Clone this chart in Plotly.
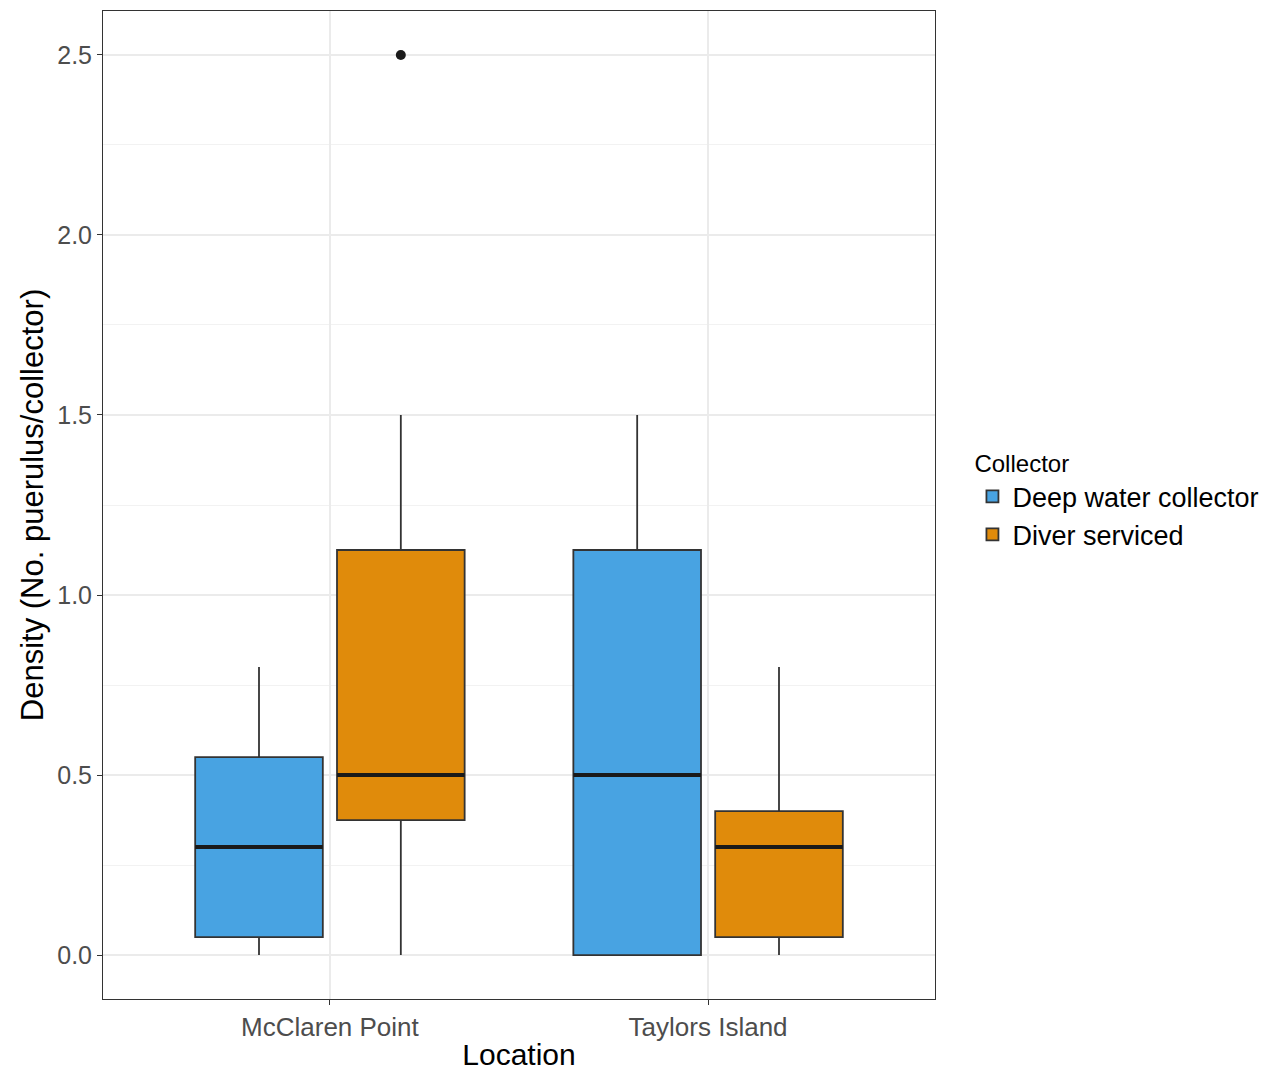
import plotly.graph_objects as go

locations = ["McClaren Point", "Taylors Island"]
collectors = ["Deep water collector", "Diver serviced"]
colors = ["#48A3E2", "#E08B0B"]

# per collector: values for [McClaren Point, Taylors Island]
q1 = {"Deep water collector": [0.05, 0.0], "Diver serviced": [0.375, 0.05]}
median = {"Deep water collector": [0.3, 0.5], "Diver serviced": [0.5, 0.3]}
q3 = {"Deep water collector": [0.55, 1.125], "Diver serviced": [1.125, 0.4]}
lower = {"Deep water collector": [0.0, 0.0], "Diver serviced": [0.0, 0.0]}
upper = {"Deep water collector": [0.8, 1.5], "Diver serviced": [1.5, 0.8]}
outlier_loc = ["McClaren Point"]
outlier_col = ["Diver serviced"]
outlier_val = [2.5]

dodge = 0.1875
width = 0.3375
offsets = {"Deep water collector": -dodge, "Diver serviced": dodge}

fig = go.Figure()
for c, col in zip(collectors, colors):
    xs = [i + offsets[c] for i in range(len(locations))]
    fig.add_trace(go.Box(
        x=xs, q1=q1[c], median=median[c], q3=q3[c],
        lowerfence=lower[c], upperfence=upper[c],
        width=width, boxpoints=False, whiskerwidth=0,
        fillcolor=col, line=dict(color="#333333", width=1.8),
        name=c, showlegend=True,
    ))
    for x, m in zip(xs, median[c]):
        fig.add_trace(go.Scatter(
            x=[x - width / 2, x + width / 2], y=[m, m], mode="lines",
            line=dict(color="#1a1a1a", width=4), showlegend=False, hoverinfo="skip",
        ))

fig.add_trace(go.Scatter(
    x=[locations.index(l) + offsets[c] for l, c in zip(outlier_loc, outlier_col)],
    y=outlier_val, mode="markers",
    marker=dict(color="#1a1a1a", size=10), showlegend=False,
))

font = "Liberation Sans, Arial, sans-serif"
fig.update_layout(
    width=1266, height=1063,
    margin=dict(l=95, r=339, t=2, b=68),
    paper_bgcolor="white", plot_bgcolor="white",
    font=dict(family=font, color="#000000"),
    legend=dict(
        title=dict(text="Collector", font=dict(size=24, color="#000000")),
        font=dict(size=27, color="#000000"),
        x=1.045, xanchor="left", y=0.505, yanchor="middle",
        itemwidth=30, tracegroupgap=2,
    ),
    xaxis=dict(
        range=[-0.6, 1.6], tickvals=list(range(len(locations))), ticktext=locations,
        showgrid=True, gridcolor="#EBEBEB", gridwidth=1.5, zeroline=False,
        showline=True, mirror=True, linecolor="#333333", linewidth=1,
        ticks="outside", ticklen=5, tickcolor="#333333",
        tickfont=dict(size=26, color="#4D4D4D"),
        title=dict(text="Location", font=dict(size=30, color="#000000"), standoff=6),
    ),
    yaxis=dict(
        range=[-0.122, 2.622], tickvals=[0, 0.5, 1.0, 1.5, 2.0, 2.5],
        ticktext=["0.0", "0.5", "1.0", "1.5", "2.0", "2.5"],
        showgrid=True, gridcolor="#EBEBEB", gridwidth=1.5, zeroline=False,
        minor=dict(tickvals=[0.25, 0.75, 1.25, 1.75, 2.25], showgrid=True,
                   gridcolor="#F2F2F2", gridwidth=0.8),
        showline=True, mirror=True, linecolor="#333333", linewidth=1,
        ticks="outside", ticklen=5, tickcolor="#333333",
        tickfont=dict(size=25, color="#4D4D4D"),
        title=dict(text="Density (No. puerulus/collector)", font=dict(size=31, color="#000000"), standoff=4),
    ),
)

fig.write_html("out.html")
